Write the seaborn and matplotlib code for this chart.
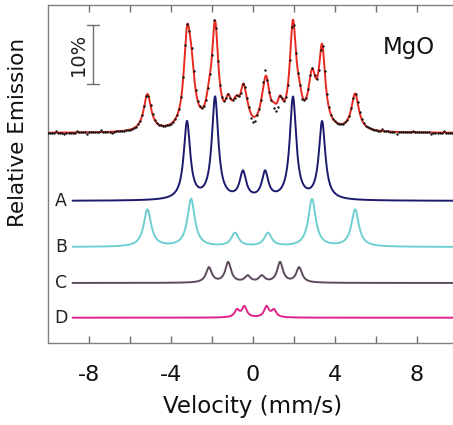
import numpy as np
import pandas as pd
import matplotlib
matplotlib.use("Agg")
import matplotlib.pyplot as plt
import seaborn as sns

# Sub-spectra of the emission Mössbauer fit: line positions (mm/s),
# line heights (% emission) and full widths at half maximum (mm/s)
pos_A = [-3.22, -1.85, -0.49, 0.59, 1.95, 3.37]
amp_A = [13.4, 17.6, 4.6, 4.6, 17.6, 13.4]
fwhm_A = 0.38

pos_B = [-5.15, -3.02, -0.88, 0.73, 2.88, 4.98]
amp_B = [6.4, 8.2, 2.3, 2.3, 8.2, 6.4]
fwhm_B = 0.44

pos_C = [-2.15, -1.21, -0.26, 0.43, 1.32, 2.25]
amp_C = [2.6, 3.5, 1.1, 1.1, 3.5, 2.6]
fwhm_C = 0.34

pos_D = [-0.78, -0.42, 0.66, 1.02]
amp_D = [1.25, 1.85, 1.85, 1.25]
fwhm_D = 0.28

# vertical offsets of each trace (% emission)
offset_fit = 36.2
offset_A = 24.5
offset_B = 16.55
offset_C = 10.35
offset_D = 4.36

labels = ["A", "B", "C", "D"]
colors = ["#1c1a6e", "#6fcfcf", "#5c4a5c", "#e0238c"]
fit_color = "#e8291f"

# measured channels deviating visibly from the fit (velocity, deviation in %)
dev_v = [-9.6, -9.2, -8.6, -8.1, -7.4, -6.9, -1.85, 0.5, 0.6, -0.1, 0.0, 0.1,
         1.0, 1.1, 1.2, 2.4, 6.3, 7.0, 7.8, 8.7, 9.3]
dev_y = [0.3, -0.25, 0.3, -0.3, 0.35, -0.25, 1.0, 1.0, 1.2, -0.8, -0.9, -0.7,
         -1.1, -1.2, -0.9, -0.6, 0.3, -0.3, 0.3, -0.25, 0.3]


def lorentz_sum(v, pos, amp, fwhm):
    g = (fwhm / 2.0) ** 2
    out = np.zeros_like(v)
    for p, a in zip(pos, amp):
        out += a * g / ((v - p) ** 2 + g)
    return out


v_fit = np.linspace(-10, 10, 2001)
v_sub = np.linspace(-8.8, 10, 1900)
v_chan = np.round(np.arange(-10.0, 10.0001, 0.1), 2)

comps = [(pos_A, amp_A, fwhm_A, offset_A),
         (pos_B, amp_B, fwhm_B, offset_B),
         (pos_C, amp_C, fwhm_C, offset_C),
         (pos_D, amp_D, fwhm_D, offset_D)]


def total(v):
    return offset_fit + sum(lorentz_sum(v, p, a, w) for p, a, w, _ in comps)


fit_df = pd.DataFrame({"v": v_fit, "y": total(v_fit)})
chan_y = total(v_chan)
for dv, dy in zip(dev_v, dev_y):
    idx = np.argmin(np.abs(v_chan - dv))
    chan_y[idx] += dy
chan_df = pd.DataFrame({"v": v_chan, "y": chan_y})

sns.set_style("white")
plt.rcParams["font.family"] = ["DejaVu Sans"]
plt.rcParams["axes.unicode_minus"] = False

fig = plt.figure(figsize=(4.53, 4.25), dpi=100)
ax = fig.add_axes([48 / 453, 82 / 425, 410 / 453, 338 / 425])

for (p, a, w, off), lab, col in zip(comps, labels, colors):
    df = pd.DataFrame({"v": v_sub, "y": off + lorentz_sum(v_sub, p, a, w)})
    sns.lineplot(data=df, x="v", y="y", ax=ax, color=col, lw=1.4)
    ax.text(-9.37, off, lab, ha="center", va="center", fontsize=12.5, color="#222222")

sns.lineplot(data=fit_df, x="v", y="y", ax=ax, color=fit_color, lw=1.4, zorder=2)
sns.scatterplot(data=chan_df, x="v", y="y", ax=ax, color="#111111", s=3,
                linewidth=0, zorder=3)

# 10 % scale bar
bar_x, bar_lo, bar_hi = -7.8, 44.66, 54.83
ax.plot([bar_x, bar_x], [bar_lo, bar_hi], color="#707070", lw=1)
ax.plot([bar_x - 0.3, bar_x + 0.3], [bar_lo, bar_lo], color="#707070", lw=1)
ax.plot([bar_x - 0.3, bar_x + 0.3], [bar_hi, bar_hi], color="#707070", lw=1)
ax.text(-8.5, 49.8, "10%", rotation=90, ha="center", va="center", fontsize=14,
        color="#222222")
ax.text(7.6, 50.9, "MgO", ha="center", va="center", fontsize=16.5, color="#111111")

ax.set_xlim(-10, 10)
ax.set_ylim(0, 58.28)
ax.set_xticks([-8, -4, 0, 4, 8])
ax.set_xticks([-6, -2, 2, 6], minor=True)
ax.set_yticks([])
ax.tick_params(axis="x", which="both", direction="in", length=5, width=1,
               color="#707070", top=True, bottom=True, labelsize=16, pad=16,
               labelcolor="#111111")
for side in ["left", "top", "bottom", "right"]:
    ax.spines[side].set_color("#808080")
    ax.spines[side].set_linewidth(1)
ax.set_xlabel("Velocity (mm/s)", fontsize=16.5, labelpad=7, color="#111111")
ax.set_ylabel("Relative Emission", fontsize=15.5, color="#111111")
ax.yaxis.set_label_coords(-20 / 410, (343 - 132) / 338)

fig.savefig("out.png", dpi=100)
